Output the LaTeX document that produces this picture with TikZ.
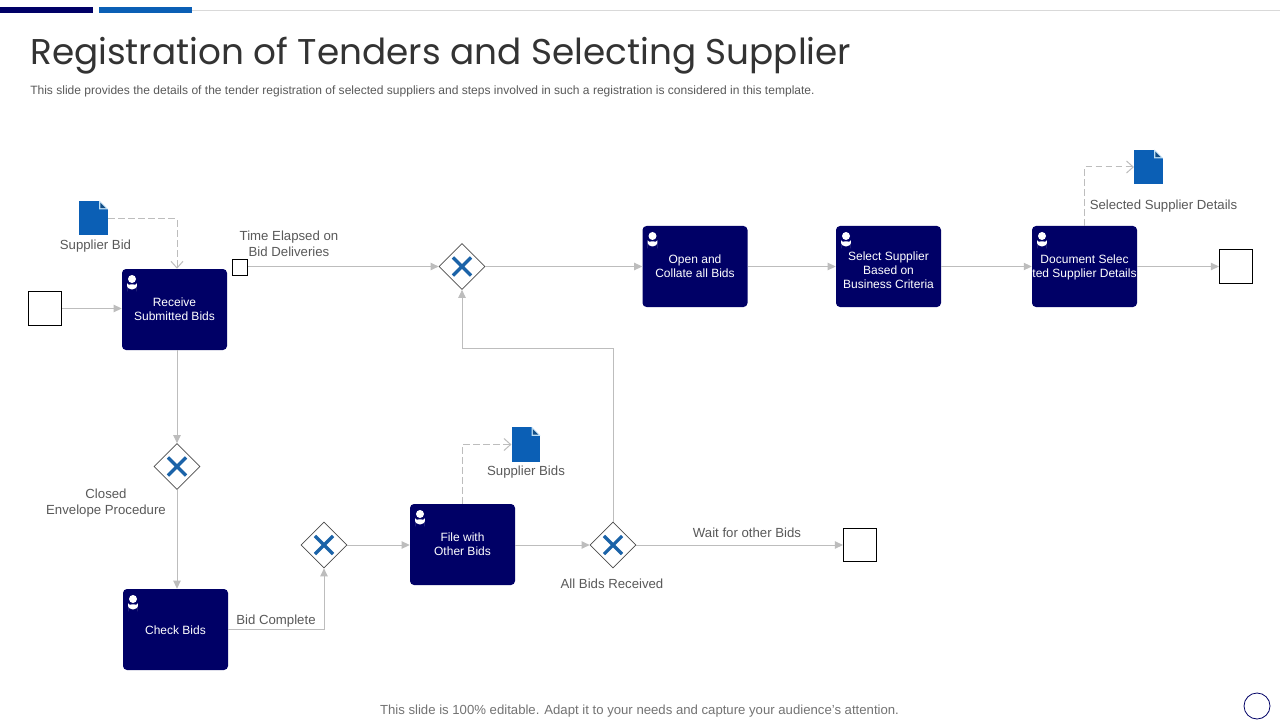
\documentclass[tikz,border=0pt]{standalone}
\usepackage{fontspec}
\setmainfont{Liberation Sans}
\newfontfamily\titlefont{Poppins}
\usetikzlibrary{
  arrows.meta,
  shapes.geometric,
  positioning,
  calc
}
\definecolor{tnNavy}{HTML}{000066}
\definecolor{tnBlue}{HTML}{0B5FB5}
\definecolor{tnFold}{HTML}{134E86}
\definecolor{tnFoldEdge}{HTML}{BFE0F5}
\definecolor{tnCross}{HTML}{1B63A8}
\definecolor{tnLine}{HTML}{BDBDBD}
\definecolor{tnText}{HTML}{595959}
\definecolor{tnRule}{HTML}{D9D9D9}
\tikzset{
  tasknode/.style={
    fill=tnNavy, rounded corners=3pt, minimum width=78.75pt, minimum height=60.75pt,
    inner sep=0pt, text=white, align=center,
    font=\fontsize{9}{10.4}\selectfont,
    path picture={
      \fill[white] ($(path picture bounding box.north west)+(7.5pt,-7.5pt)$) circle (3pt);
      \fill[white] ($(path picture bounding box.north west)+(3.8pt,-15.2pt)$)
        -- ++(0,1.5pt) arc[start angle=180, end angle=0, x radius=3.7pt, y radius=2.2pt] -- ++(0,-1.5pt) -- cycle;
    }
  },
  eventnode/.style={draw=black, fill=white, minimum size=25pt, inner sep=0pt, line width=0.6pt},
  timernode/.style={draw=black, fill=white, minimum size=11.5pt, inner sep=0pt, line width=0.6pt},
  gatewaynode/.style={
    draw=black!70, fill=white, diamond, minimum width=34.5pt, minimum height=34.5pt, inner sep=0pt,
    line width=0.5pt,
    path picture={
      \draw[tnCross, line width=2.4pt]
        ($(path picture bounding box.center)+(-6.8pt,-6.8pt)$) -- ($(path picture bounding box.center)+(6.8pt,6.8pt)$)
        ($(path picture bounding box.center)+(-6.8pt,6.8pt)$) -- ($(path picture bounding box.center)+(6.8pt,-6.8pt)$);
    }
  },
  docnode/.style={
    fill=tnBlue, minimum width=21.5pt, minimum height=26pt, inner sep=0pt,
    path picture={
      \fill[white] ($(path picture bounding box.north east)+(-6.5pt,0)$) -- (path picture bounding box.north east)
        -- ($(path picture bounding box.north east)+(0,-6.5pt)$) -- cycle;
      \fill[tnFoldEdge] ($(path picture bounding box.north east)+(-6.5pt,0)$)
        -- ($(path picture bounding box.north east)+(-6.5pt,-6.5pt)$)
        -- ($(path picture bounding box.north east)+(0,-6.5pt)$) -- cycle;
      \fill[tnFold] ($(path picture bounding box.north east)+(-5.6pt,-1.5pt)$)
        -- ($(path picture bounding box.north east)+(-5.6pt,-5.6pt)$)
        -- ($(path picture bounding box.north east)+(-1.5pt,-5.6pt)$) -- cycle;
    }
  },
  lbl/.style={text=tnText, align=center, inner sep=0pt, font=\fontsize{9.9}{11.8}\selectfont},
  flow/.style={-{Triangle[length=6pt,width=5.5pt]}, tnLine, line width=0.75pt},
  flowdash/.style={-{Straight Barb[length=5pt,width=9pt]}, tnLine, line width=0.75pt, dash pattern=on 5pt off 2.5pt}
}

\begin{document}
\begin{tikzpicture}[x=0.75pt,y=-0.75pt]
  \useasboundingbox (0,0) rectangle (1280,720);
  \fill[white] (0,0) rectangle (1280,720);

  % header
  \draw[tnRule, line width=0.75pt] (192,10.5) -- (1280,10.5);
  \fill[tnNavy] (0,7) rectangle (93,13);
  \fill[tnBlue] (99,7) rectangle (192,13);
  \node[anchor=base west, inner sep=0pt, text=black!80, font=\titlefont\fontsize{26.85}{30}\selectfont] (slidetitle)
    at (30,65) {Registration of Tenders and Selecting Supplier};
  \node[anchor=base west, inner sep=0pt, text=tnText, font=\fontsize{9.03}{11}\selectfont] (slidesub)
    at (30,95) {This slide provides the details of the tender registration of selected suppliers and steps involved in such a registration is considered in this template.};

  % tasks
  \foreach \id/\x/\y/\name in {
    recvbids/174.5/309.5/{Receive\\Submitted Bids},
    checkbids/175.5/629.5/{\rule{0pt}{8pt}Check Bids},
    filebids/462.5/544.5/{File with\\Other Bids},
    openbids/695/266.5/{Open and\\Collate all Bids},
    selectsup/888.5/266.5/{\rule{0pt}{11.75pt}Select Supplier\\Based on\\Business Criteria},
    docsup/1084.5/266.5/{\rule{0pt}{8pt}Document Selec\\ted Supplier Details}}{
    \node[tasknode] (\id) at (\x,\y) {\name};
  }

  % events
  \node[eventnode] (startev) at (45,308.5) {};
  \node[eventnode] (endev) at (1236,266.5) {};
  \node[eventnode] (waitev) at (860,545) {};
  \node[timernode] (timerev) at (240,267.5) {};

  % gateways
  \foreach \id/\x/\y in {gwtime/462/266.5, gwclosed/177/466.5, gwcheck/324/545, gwall/613/545}{
    \node[gatewaynode] (\id) at (\x,\y) {};
  }

  % documents
  \node[docnode] (docbid) at (93.5,218) {};
  \node[docnode] (docdetails) at (1148.5,167) {};
  \node[docnode] (docbids) at (526,444.5) {};

  % labels
  \node[lbl] (lblbid) at (95.5,246) {Supplier Bid};
  \node[lbl] (lbltime) at (289,244) {Time Elapsed on\\Bid Deliveries};
  \node[lbl] (lblenv) at (106,503) {Closed\\Envelope Procedure};
  \node[lbl] (lblcomplete) at (276,621) {Bid Complete};
  \node[lbl] (lblbids) at (526,472) {Supplier Bids};
  \node[lbl] (lblall) at (612,584) {All Bids Received};
  \node[lbl] (lblwait) at (747,533) {Wait for other Bids};
  \node[lbl] (lbldetails) at (1163.5,206) {Selected Supplier Details};

  % flows
  \draw[flow] (startev) -- (startev -| recvbids.west);
  \draw[flow] (timerev.east |- gwtime) -- (gwtime);
  \draw[flow] (gwtime) -- (openbids);
  \draw[flow] (openbids) -- (selectsup);
  \draw[flow] (selectsup) -- (docsup);
  \draw[flow] (docsup) -- (endev);
  \draw[flow] (recvbids.south -| gwclosed) -- (gwclosed);
  \draw[flow] (gwclosed) -- (checkbids.north -| gwclosed);
  \draw[flow] (checkbids.east) -| (gwcheck);
  \draw[flow] (gwcheck) -- (gwcheck -| filebids.west);
  \draw[flow] (gwall -| filebids.east) -- (gwall);
  \draw[flow] (gwall) -- (waitev);
  \draw[flow] (gwall) |- (462,348.5) -- (gwtime);

  % data links
  \draw[flowdash] (docbid.east |- 0,219) -| (recvbids.north -| gwclosed);
  \draw[flowdash] (docsup) ++(0,-40.5) |- (docdetails.west);
  \draw[flowdash] (filebids.north) |- (docbids.west);

  % footer
  \node[anchor=base, inner sep=0pt, text=black!55, font=\fontsize{9.87}{12}\selectfont] (slidefoot)
    at (639.5,714) {This slide is 100\% editable. Adapt it to your needs and capture your audience's attention.};
  \node[draw=tnNavy, circle, minimum size=19.5pt, inner sep=0pt, line width=0.6pt] (cornermark) at (1257,706) {};
\end{tikzpicture}
\end{document}
